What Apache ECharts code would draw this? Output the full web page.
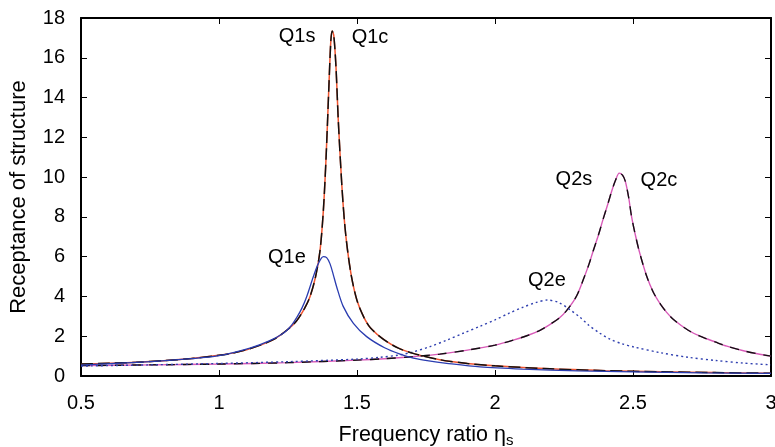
<!DOCTYPE html>
<html><head><meta charset="utf-8">
<script src="https://cdn.jsdelivr.net/npm/echarts@6/dist/echarts.min.js"></script>
<style>html,body{margin:0;padding:0;background:#fff}#c{width:775px;height:447px}</style>
</head><body><div id="c"></div>
<script>
// Axis ticks
const xTicks = [0.5, 1, 1.5, 2, 2.5, 3];
const yTicks = [0, 2, 4, 6, 8, 10, 12, 14, 16, 18];

// Q1s / Q1c (mode 1)
const q1X = [0.5,0.6,0.7,0.8,0.9,1.0,1.05,1.1,1.15,1.2,1.25,1.28,1.31,1.33,1.35,1.366,1.378,1.388,1.398,1.405,1.41,1.416,1.424,1.432,1.445,1.455,1.465,1.48,1.5,1.525,1.55,1.6,1.65,1.7,1.8,1.9,2.0,2.2,2.4,2.6,2.8,3.0];
const q1sY = [0.6,0.64,0.69,0.77,0.88,1.04,1.15,1.32,1.55,1.85,2.35,2.75,3.4,4.0,5.0,6.3,8.3,11.0,14.5,16.8,17.35,17.1,15.5,12.9,9.6,7.7,6.4,5.0,3.8,2.95,2.4,1.8,1.4,1.15,0.82,0.63,0.51,0.36,0.27,0.21,0.17,0.14];
const q1cY = [0.6,0.64,0.69,0.77,0.88,1.04,1.15,1.32,1.55,1.85,2.35,2.75,3.4,4.0,5.0,6.3,8.3,11.0,14.5,16.8,17.35,17.1,15.5,12.9,9.6,7.7,6.4,5.0,3.8,2.95,2.4,1.8,1.4,1.15,0.82,0.63,0.51,0.36,0.27,0.21,0.17,0.14];

// Q1e (mode 1, experimental)
const q1eX = [0.5,0.7,0.9,1.0,1.112,1.18,1.233,1.26,1.282,1.3,1.318,1.342,1.36,1.378,1.39,1.402,1.414,1.426,1.45,1.487,1.535,1.6,1.656,1.704,1.76,1.825,1.946,2.1,2.3,2.5,2.75,3.0];
const q1eY = [0.55,0.68,0.87,1.02,1.4,1.75,2.15,2.5,2.95,3.4,4.0,5.0,5.65,6.0,5.95,5.65,5.1,4.5,3.5,2.65,1.98,1.42,1.1,0.9,0.76,0.64,0.46,0.35,0.26,0.21,0.16,0.13];

// Q2s / Q2c (mode 2)
const q2X = [0.5,0.75,1.0,1.25,1.5,1.6,1.7,1.8,1.9,2.0,2.066,2.12,2.163,2.2,2.236,2.26,2.284,2.3,2.32,2.34,2.356,2.375,2.392,2.41,2.423,2.437,2.45,2.462,2.472,2.484,2.495,2.51,2.525,2.55,2.574,2.6,2.622,2.65,2.7,2.743,2.8,2.84,2.9,2.95,3.0];
const q2sY = [0.52,0.56,0.6,0.67,0.8,0.87,0.97,1.1,1.3,1.55,1.8,2.05,2.3,2.6,2.95,3.3,3.75,4.15,4.85,5.6,6.3,7.1,7.9,8.7,9.3,9.85,10.2,10.1,9.8,9.0,8.0,7.0,6.15,5.0,4.2,3.6,3.2,2.8,2.3,2.0,1.7,1.5,1.27,1.12,1.0];
const q2cY = [0.52,0.56,0.6,0.67,0.8,0.87,0.97,1.1,1.3,1.55,1.8,2.05,2.3,2.6,2.95,3.3,3.75,4.15,4.85,5.6,6.3,7.1,7.9,8.7,9.3,9.85,10.2,10.1,9.8,9.0,8.0,7.0,6.15,5.0,4.2,3.6,3.2,2.8,2.3,2.0,1.7,1.5,1.27,1.12,1.0];

// Q2e (mode 2, experimental)
const q2eX = [0.5,0.75,1.0,1.25,1.5,1.583,1.65,1.7,1.765,1.825,1.885,1.946,2.0,2.05,2.1,2.15,2.19,2.23,2.27,2.308,2.34,2.38,2.417,2.46,2.5,2.6,2.7,2.8,2.9,3.0];
const q2eY = [0.5,0.56,0.63,0.72,0.85,0.94,1.05,1.2,1.48,1.8,2.15,2.5,2.82,3.15,3.45,3.7,3.82,3.7,3.35,2.95,2.55,2.15,1.85,1.62,1.47,1.17,0.94,0.78,0.65,0.56];

// Curve annotations (data coordinates)
const annoText = ['Q1s','Q1c','Q1e','Q2s','Q2c','Q2e'];
const annoX = [1.283,1.547,1.246,2.286,2.594,2.188];
const annoY = [17.08,17.03,5.94,9.87,9.82,4.79];

const zip = (xs, ys) => xs.map((x, i) => [x, ys[i]]);
const FONT = 'Liberation Sans, Arial, sans-serif';

const chart = echarts.init(document.getElementById('c'), null, {renderer: 'canvas'});
const lineBase = {type: 'line', showSymbol: false, symbol: 'none', smooth: 0.3, animation: false, z: 2};
const axisCommon = {
  splitLine: {show: false},
  axisLine: {show: true, onZero: false, lineStyle: {color: '#000', width: 2}},
  axisTick: {show: true, inside: true, length: 6, lineStyle: {color: '#000', width: 1}}
};
chart.setOption({
  backgroundColor: '#fff',
  animation: false,
  grid: {left: 81, right: 4, top: 18, bottom: 71, containLabel: false, outerBoundsMode: 'none'},
  xAxis: [
    Object.assign({}, axisCommon, {type: 'value', position: 'bottom', min: 0.5, max: 3, interval: 0.5,
      axisLabel: {color: '#000', fontSize: 20, fontFamily: FONT, margin: 17, showMaxLabel: true, formatter: v => String(+v.toFixed(1))},
      name: 'Frequency ratio η{sub|s}', nameLocation: 'middle', nameGap: 47,
      nameTextStyle: {color: '#000', fontSize: 21.5, fontFamily: FONT, rich: {sub: {fontSize: 15, fontFamily: FONT, color: '#000', verticalAlign: 'bottom', padding: [10,0,0,0]}}}}),
    Object.assign({}, axisCommon, {type: 'value', position: 'top', min: 0.5, max: 3, interval: 0.5,
      axisLabel: {show: false}})
  ],
  yAxis: [
    Object.assign({}, axisCommon, {type: 'value', position: 'left', min: 0, max: 18, interval: 2,
      axisLabel: {color: '#000', fontSize: 20, fontFamily: FONT, margin: 16},
      name: 'Receptance of structure', nameLocation: 'middle', nameGap: 51, nameRotate: 90,
      nameTextStyle: {color: '#000', fontSize: 22, fontFamily: FONT}}),
    Object.assign({}, axisCommon, {type: 'value', position: 'right', min: 0, max: 18, interval: 2,
      axisLabel: {show: false}})
  ],
  series: [
    Object.assign({}, lineBase, {name: 'Q2s', data: zip(q2X, q2sY), lineStyle: {color: '#d85ab8', width: 1.4}}),
    Object.assign({}, lineBase, {name: 'Q2c', data: zip(q2X, q2cY), lineStyle: {color: '#111', width: 1.4, type: [9, 8]}, z: 3}),
    Object.assign({}, lineBase, {name: 'Q2e', data: zip(q2eX, q2eY), lineStyle: {color: '#3040b0', width: 1.4, type: [2, 3]}, z: 3}),
    Object.assign({}, lineBase, {name: 'Q1s', data: zip(q1X, q1sY), lineStyle: {color: '#f05530', width: 1.5}}),
    Object.assign({}, lineBase, {name: 'Q1c', data: zip(q1X, q1cY), lineStyle: {color: '#111', width: 1.5, type: [12, 5]}, z: 3}),
    Object.assign({}, lineBase, {name: 'Q1e', data: zip(q1eX, q1eY), lineStyle: {color: '#2a3cb0', width: 1.3}, z: 3}),
    {type: 'scatter', name: 'labels', symbolSize: 0, silent: true, animation: false, z: 5,
     itemStyle: {opacity: 1},
     data: annoText.map((t, i) => ({value: [annoX[i], annoY[i]], name: t})),
     label: {show: true, position: 'inside', formatter: p => p.name, color: '#000', opacity: 1, textBorderWidth: 0, fontSize: 20, fontFamily: FONT}}
  ]
});
</script></body></html>
